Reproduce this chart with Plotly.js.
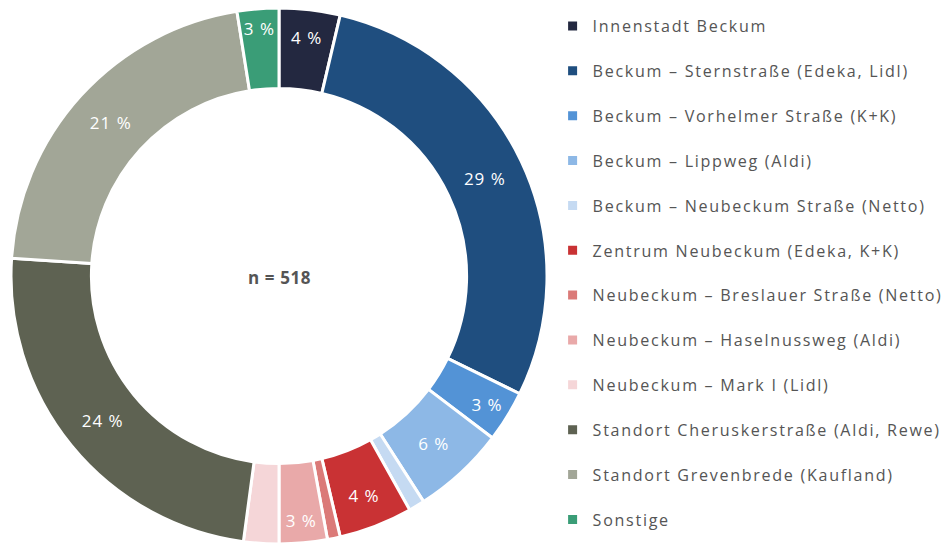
<!DOCTYPE html>
<html>
<head>
<meta charset="utf-8">
<script src="https://cdn.plot.ly/plotly-3.0.1.min.js"></script>
<style>
  html, body { margin: 0; padding: 0; background: #ffffff; }
  #chart { width: 949px; height: 545px; }
</style>
</head>
<body>
<div id="chart"></div>
<script>
// Einkaufsorte (Nennungen, n = 518)
const standorte = [
  "Innenstadt Beckum",
  "Beckum – Sternstraße (Edeka, Lidl)",
  "Beckum – Vorhelmer Straße (K+K)",
  "Beckum – Lippweg (Aldi)",
  "Beckum – Neubeckum Straße (Netto)",
  "Zentrum Neubeckum (Edeka, K+K)",
  "Neubeckum – Breslauer Straße (Netto)",
  "Neubeckum – Haselnussweg (Aldi)",
  "Neubeckum – Mark I (Lidl)",
  "Standort Cheruskerstraße (Aldi, Rewe)",
  "Standort Grevenbrede (Kaufland)",
  "Sonstige"
];
const nennungen = [19, 148, 16, 29, 5, 23, 4, 15, 11, 124, 111, 13];
const farben = [
  "#232840", "#1f4e7f", "#5393d6", "#8db8e6", "#c5daf2", "#c93234",
  "#db7a78", "#e9a9a9", "#f5d6d8", "#5e6252", "#a2a697", "#3a9d77"
];
const stichprobe = "n = 518";

const summe = nennungen.reduce((a, b) => a + b, 0);
const weit = s => '<span style="letter-spacing:1.7px">' + s + '</span>';

// Prozentwerte nur in ausreichend großen Segmenten beschriften
const beschriftung = nennungen.map(v => {
  const p = Math.round(v / summe * 100);
  return p >= 3 ? '<span style="letter-spacing:1px">' + p + " %</span>" : "";
});
// Leerzeile unter jedem Eintrag (außer dem letzten) sorgt für den
// großzügigen Zeilenabstand der Legende
const legendenText = standorte.map((s, i) =>
  weit(s) + (i < standorte.length - 1 ? "<br> " : ""));

const schrift = "Open Sans, Lato, sans-serif";

const trace = {
  type: "pie",
  labels: legendenText,
  values: nennungen,
  text: beschriftung,
  textinfo: "text",
  textposition: "inside",
  insidetextorientation: "horizontal",
  insidetextfont: { color: "#ffffff", size: 17, family: schrift },
  hole: 0.70,
  sort: false,
  direction: "clockwise",
  rotation: 0,
  marker: { colors: farben, line: { color: "#ffffff", width: 3 } },
  domain: { x: [0.0116, 0.5764], y: [0.0018, 0.9853] },
  hoverinfo: "none"
};

const layout = {
  width: 949,
  height: 545,
  margin: { l: 0, r: 0, t: 0, b: 0 },
  paper_bgcolor: "#ffffff",
  showlegend: true,
  legend: {
    x: 0.5823, xanchor: "left",
    y: 0.9835, yanchor: "top",
    valign: "top",
    font: { family: schrift, size: 16.1, color: "#555555" },
    itemclick: false, itemdoubleclick: false
  },
  annotations: [{
    text: '<b><span style="letter-spacing:0.6px">' + stichprobe + "</span></b>",
    x: 0.295, y: 0.49, xref: "paper", yref: "paper",
    xanchor: "center", yanchor: "middle",
    showarrow: false,
    font: { family: schrift, size: 17, color: "#555555" }
  }]
};

Plotly.newPlot("chart", [trace], layout, { displayModeBar: false, staticPlot: true });
</script>
</body>
</html>
